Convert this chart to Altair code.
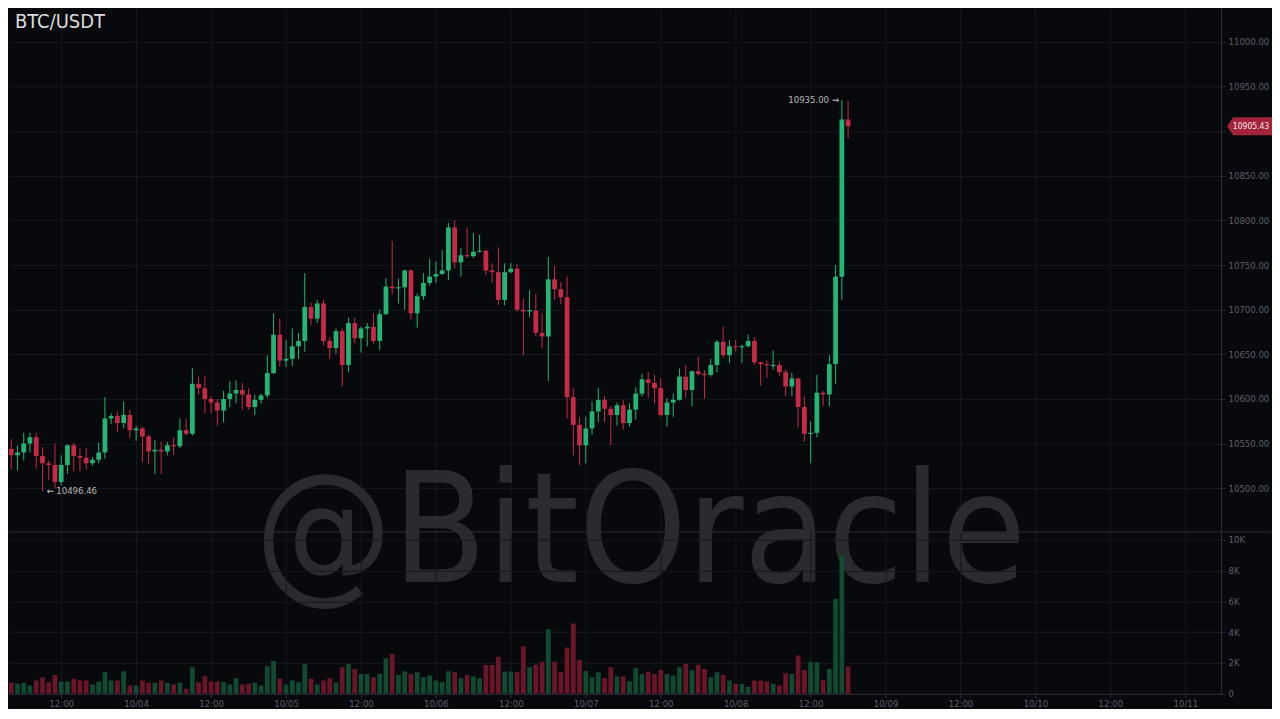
import os
import altair as alt
import pandas as pd

# ---------------- data (hourly candles, first candle 10/03 03:00) ----------------
first_hour = 3  # hours after 10/03 00:00
opens = [10569, 10544, 10537, 10540, 10550, 10557, 10536, 10528, 10526, 10507,
         10526, 10548, 10536, 10534, 10528, 10532, 10540, 10578, 10581, 10573,
         10582, 10565, 10567, 10558, 10541, 10543, 10541, 10548, 10547, 10565,
         10561, 10617, 10612, 10600, 10596, 10587, 10600, 10606, 10610, 10605,
         10591, 10599, 10604, 10629, 10672, 10643, 10645, 10659, 10665, 10703,
         10690, 10707, 10665, 10657, 10676, 10638, 10685, 10668, 10679, 10681,
         10665, 10695, 10726, 10724, 10725, 10744, 10696, 10715, 10730, 10737,
         10740, 10744, 10792, 10753, 10761, 10760, 10765, 10766, 10744, 10742,
         10711, 10742, 10746, 10700, 10698, 10699, 10674, 10670, 10734, 10723,
         10714, 10602, 10571, 10548, 10567, 10586, 10599, 10589, 10582, 10593,
         10573, 10588, 10606, 10622, 10618, 10612, 10582, 10596, 10599, 10625,
         10610, 10631, 10628, 10627, 10638, 10664, 10649, 10659, 10658, 10659,
         10665, 10641, 10639, 10637, 10638, 10630, 10614, 10623, 10591, 10561,
         10562, 10607, 10605, 10639, 10737, 10913]
highs = [10576, 10555, 10548, 10562, 10562, 10562, 10546, 10531, 10550, 10537,
         10549, 10551, 10544, 10545, 10535, 10551, 10602, 10584, 10586, 10597,
         10588, 10570, 10569, 10560, 10554, 10552, 10552, 10557, 10578, 10578,
         10635, 10625, 10626, 10603, 10600, 10609, 10620, 10621, 10618, 10612,
         10605, 10606, 10649, 10696, 10690, 10666, 10679, 10674, 10741, 10708,
         10711, 10711, 10669, 10679, 10679, 10691, 10691, 10681, 10685, 10696,
         10700, 10735, 10777, 10735, 10745, 10745, 10718, 10741, 10757, 10754,
         10767, 10797, 10800, 10769, 10792, 10786, 10784, 10767, 10752, 10770,
         10752, 10752, 10751, 10712, 10722, 10718, 10696, 10759, 10749, 10731,
         10737, 10612, 10580, 10580, 10597, 10612, 10603, 10592, 10596, 10599,
         10595, 10613, 10628, 10630, 10627, 10623, 10601, 10606, 10634, 10638,
         10632, 10647, 10632, 10645, 10666, 10681, 10666, 10666, 10661, 10672,
         10669, 10642, 10643, 10654, 10642, 10633, 10629, 10624, 10603, 10575,
         10627, 10609, 10649, 10750, 10935, 10934]
lows = [10531, 10521, 10520, 10531, 10540, 10522, 10496.46, 10509, 10500, 10503,
        10516, 10519, 10519, 10521, 10525, 10528, 10533, 10572, 10563, 10567,
        10556, 10553, 10529, 10527, 10516, 10516, 10537, 10537, 10545, 10559,
        10559, 10605, 10584, 10584, 10570, 10574, 10591, 10595, 10588, 10588,
        10582, 10595, 10601, 10628, 10636, 10636, 10637, 10645, 10653, 10683,
        10685, 10660, 10645, 10651, 10614, 10630, 10662, 10652, 10659, 10662,
        10655, 10694, 10717, 10707, 10700, 10689, 10680, 10711, 10727, 10730,
        10739, 10733, 10746, 10737, 10758, 10758, 10764, 10739, 10730, 10705,
        10705, 10741, 10698, 10649, 10692, 10670, 10657, 10620, 10711, 10706,
        10578, 10537, 10526, 10528, 10560, 10574, 10574, 10548, 10570, 10566,
        10569, 10577, 10603, 10601, 10595, 10580, 10569, 10580, 10598, 10601,
        10592, 10626, 10600, 10625, 10630, 10646, 10640, 10653, 10640, 10658,
        10638, 10615, 10624, 10633, 10626, 10603, 10603, 10568, 10552, 10528,
        10557, 10592, 10592, 10617, 10711, 10892]
closes = [10544, 10537, 10540, 10550, 10557, 10536, 10528, 10526, 10507, 10526,
          10548, 10536, 10534, 10528, 10532, 10540, 10578, 10581, 10573, 10582,
          10565, 10567, 10558, 10541, 10543, 10541, 10548, 10547, 10565, 10561,
          10617, 10612, 10600, 10596, 10587, 10600, 10606, 10610, 10605, 10591,
          10599, 10604, 10629, 10672, 10643, 10645, 10659, 10665, 10703, 10690,
          10707, 10665, 10657, 10676, 10638, 10685, 10668, 10679, 10681, 10665,
          10695, 10726, 10724, 10725, 10744, 10696, 10715, 10730, 10737, 10740,
          10744, 10792, 10753, 10761, 10760, 10765, 10766, 10744, 10742, 10711,
          10742, 10746, 10700, 10698, 10699.5, 10674, 10670, 10734, 10723, 10714,
          10602, 10571, 10548, 10567, 10586, 10599, 10589, 10582, 10593, 10573,
          10588, 10606, 10622, 10618, 10612, 10582, 10596, 10599, 10625, 10610,
          10631, 10628, 10627, 10638, 10664, 10649, 10659, 10658, 10659, 10665,
          10641, 10639, 10638, 10638, 10630, 10614, 10623, 10591, 10561, 10562,
          10607, 10605, 10639, 10737, 10913, 10905.43]
volumes = [795, 710, 645, 710, 538, 860, 1075, 750, 1225, 795,
           795, 968, 860, 860, 600, 795, 1398, 860, 860, 1462,
           538, 538, 860, 710, 710, 860, 710, 600, 710, 323,
           1720, 750, 1140, 795, 795, 750, 600, 1010, 600, 645,
           710, 538, 1785, 2130, 968, 600, 860, 750, 1915, 968,
           600, 860, 1010, 710, 1720, 1935, 1613, 1290, 1290, 1075,
           1290, 2300, 2580, 1225, 1462, 1290, 1398, 1075, 1180, 860,
           750, 1462, 1398, 1010, 1225, 1140, 1010, 1870, 1870, 2408,
           1440, 1440, 1398, 3075, 1720, 1890, 2085, 4190, 2085, 1398,
           3010, 4560, 2215, 1462, 1075, 1398, 1010, 1720, 1118, 1118,
           817, 1655, 1290, 1440, 1290, 1548, 1290, 1180, 1720, 1935,
           1548, 1890, 1613, 1075, 1398, 1225, 860, 645, 645, 430,
           860, 860, 795, 645, 538, 1333, 1290, 2490, 1548, 2085,
           2040, 903, 1613, 6170, 9030, 1763]

tick_hours = [12, 24, 36, 48, 60, 72, 84, 96, 108, 120, 132, 144, 156, 168, 180, 192]
tick_labels = ['12:00', '10/04', '12:00', '10/05', '12:00', '10/06', '12:00', '10/07',
               '12:00', '10/08', '12:00', '10/09', '12:00', '10/10', '12:00', '10/11']
price_ticks = [10500, 10550, 10600, 10650, 10700, 10750, 10800, 10850, 10900, 10950, 11000]
volume_ticks = [0, 2000, 4000, 6000, 8000, 10000]
symbol = 'BTC/USDT'
watermark = '@BitOracle'
last_price = 10905.43


# ---------------- fonts ----------------
def has_font(keys):
    dirs = ['/usr/share/fonts', '/usr/local/share/fonts',
            os.path.expanduser('~/.fonts'), os.path.expanduser('~/.local/share/fonts')]
    for d in dirs:
        if os.path.isdir(d):
            for _, _, files in os.walk(d):
                for f in files:
                    n = f.lower().replace(' ', '').replace('-', '').replace('_', '')
                    if any(k in n for k in keys):
                        return True
    return False


if has_font(['liberationsansnarrow']):
    FONT, WM_SIZE, TITLE_SIZE, LAB, ANN, TAGF = 'Liberation Sans Narrow', 182, 22, 10.5, 10.5, 10
elif has_font(['dejavusanscondensed']):
    FONT, WM_SIZE, TITLE_SIZE, LAB, ANN, TAGF = 'DejaVu Sans Condensed', 153, 20, 9.5, 9.5, 8.5
else:
    FONT, WM_SIZE, TITLE_SIZE, LAB, ANN, TAGF = 'Roboto', 153, 19.5, 9.5, 9.5, 8.5

# ---------------- styles ----------------
BG = '#08090d'
GRID = '#16181e'
AXC = '#2b2e36'
LBL = '#5b5f69'
GREEN = '#22b573'
RED = '#c62a47'
VGREEN = '#0f4a31'
VRED = '#6b1528'
TAGC = '#a3233b'
WMC = '#2a2b30'
ANNC = '#b8b8b8'

W = 1213
HP = 524
HV = 161
half = 0.38

df = pd.DataFrame(dict(o=opens, h=highs, l=lows, c=closes, v=volumes))
df['t'] = first_hour + df.index
df['t0'] = df['t'] - half
df['t1'] = df['t'] + half
df['b0'] = df[['o', 'c']].min(axis=1)
df['b1'] = df[['o', 'c']].max(axis=1)
small = (df['b1'] - df['b0']) < 1.3
mid = (df['b0'] + df['b1']) / 2
df.loc[small, 'b0'] = mid[small] - 0.65
df.loc[small, 'b1'] = mid[small] + 0.65
df['up'] = df['c'] >= df['o']
df['z'] = 0


def label_expr(values, labels):
    expr = "''"
    for v, l in reversed(list(zip(values, labels))):
        expr = f"datum.value == {v} ? '{l}' : ({expr})"
    return expr


xsc = alt.Scale(domain=[3.64, 197.72], nice=False, zero=False)
psc = alt.Scale(domain=[10451.1, 11037.7], nice=False, zero=False)
vsc = alt.Scale(domain=[0, 10454.5], nice=False, zero=False)

xaxis_p = alt.Axis(values=tick_hours, grid=True, gridColor=GRID, labels=False, ticks=False,
                   domain=False, title=None)
yaxis_p = alt.Axis(orient='right', values=price_ticks, format='.2f',
                   labelExpr="datum.value == 10900 ? '' : datum.label",
                   grid=True, gridColor=GRID, domainColor=AXC, tickColor=AXC, tickSize=4,
                   labelColor=LBL, labelFont=FONT, labelFontSize=LAB, labelPadding=3, title=None)
xaxis_v = alt.Axis(orient='bottom', values=tick_hours, labelExpr=label_expr(tick_hours, tick_labels),
                   grid=True, gridColor=GRID, domainColor=AXC, tickColor=AXC, tickSize=4,
                   labelColor=LBL, labelFont=FONT, labelFontSize=LAB, labelPadding=1,
                   labelFlush=False, labelOverlap=False, title=None)
yaxis_v = alt.Axis(orient='right', values=volume_ticks,
                   labelExpr="datum.value == 0 ? '0' : (datum.value / 1000) + 'K'",
                   grid=True, gridColor=GRID, domainColor=AXC, tickColor=AXC, tickSize=4,
                   labelColor=LBL, labelFont=FONT, labelFontSize=LAB, labelPadding=3, title=None)

candle_color = alt.condition('datum.up', alt.value(GREEN), alt.value(RED))
vol_color = alt.condition('datum.up', alt.value(VGREEN), alt.value(VRED))

base = alt.Chart(df)

wm = alt.Chart(pd.DataFrame({'s': [watermark]})).mark_text(
    font=FONT, fontSize=WM_SIZE, color=WMC, align='center', baseline='alphabetic'
).encode(x=alt.value(632), y=alt.value(574), text='s:N')

wicks = base.mark_rule(strokeWidth=1, clip=True).encode(
    x=alt.X('t:Q', scale=xsc, axis=xaxis_p),
    y=alt.Y('l:Q', scale=psc, axis=yaxis_p),
    y2='h:Q',
    color=candle_color,
)
bodies = base.mark_rect(clip=True).encode(
    x=alt.X('t0:Q', scale=xsc, axis=xaxis_p),
    x2='t1:Q',
    y=alt.Y('b0:Q', scale=psc, axis=yaxis_p),
    y2='b1:Q',
    color=candle_color,
)

title = alt.Chart(pd.DataFrame({'s': [symbol]})).mark_text(
    font=FONT, fontSize=TITLE_SIZE, color='#dcdcdc', align='left', baseline='alphabetic'
).encode(x=alt.value(6), y=alt.value(20), text='s:N')

idx_hi = max(range(len(highs)), key=lambda i: highs[i])
idx_lo = min(range(len(lows)), key=lambda i: lows[i])
hi_df = pd.DataFrame({'t': [first_hour + idx_hi], 'p': [highs[idx_hi]],
                      's': [f"{highs[idx_hi]:.2f} \u2192"]})
lo_df = pd.DataFrame({'t': [first_hour + idx_lo], 'p': [lows[idx_lo]],
                      's': [f"\u2190 {lows[idx_lo]:.2f}"]})
hi_txt = alt.Chart(hi_df).mark_text(font=FONT, fontSize=ANN, color=ANNC, align='right',
                                    baseline='middle', dx=-3).encode(
    x=alt.X('t:Q', scale=xsc, axis=xaxis_p), y=alt.Y('p:Q', scale=psc, axis=yaxis_p), text='s:N')
lo_txt = alt.Chart(lo_df).mark_text(font=FONT, fontSize=ANN, color=ANNC, align='left',
                                    baseline='middle', dx=4).encode(
    x=alt.X('t:Q', scale=xsc, axis=xaxis_p), y=alt.Y('p:Q', scale=psc, axis=yaxis_p), text='s:N')

# last-price tag (kept inside the 1264 px the page leaves for the chart)
tag_df = pd.DataFrame({'p': [last_price], 's': [f"{last_price:.2f}"]})
TAG_PATH = 'M-1,0 L-0.733,-0.4 L1,-0.4 L1,0.4 L-0.733,0.4 Z'
tag = alt.Chart(tag_df).mark_point(shape=TAG_PATH, size=2025, filled=True, color=TAGC,
                                   opacity=1, strokeWidth=0).encode(
    x=alt.value(1241.5), y=alt.Y('p:Q', scale=psc, axis=yaxis_p))
tag_txt = alt.Chart(tag_df).mark_text(font=FONT, fontSize=TAGF, color='#f5e6e8', align='center',
                                      baseline='middle').encode(
    x=alt.value(1243), y=alt.Y('p:Q', scale=psc, axis=yaxis_p), text='s:N')

sep = alt.Chart(pd.DataFrame({'a': [0]})).mark_rule(color=AXC, strokeWidth=1).encode(
    x=alt.value(0), x2=alt.value(1263), y=alt.value(HP))

price = alt.layer(wm, wicks, bodies, title, hi_txt, lo_txt, tag, tag_txt, sep).properties(
    width=W, height=HP)

vol = base.mark_rect(clip=True).encode(
    x=alt.X('t0:Q', scale=xsc, axis=xaxis_v),
    x2='t1:Q',
    y=alt.Y('v:Q', scale=vsc, axis=yaxis_v),
    y2='z:Q',
    color=vol_color,
).properties(width=W, height=HV)

chart = alt.vconcat(price, vol, spacing=1, bounds='flush').properties(
    padding=0, background=BG
).configure(font=FONT).configure_view(stroke=None)

chart.save("out.html", embed_options={"renderer": "svg", "actions": False})
